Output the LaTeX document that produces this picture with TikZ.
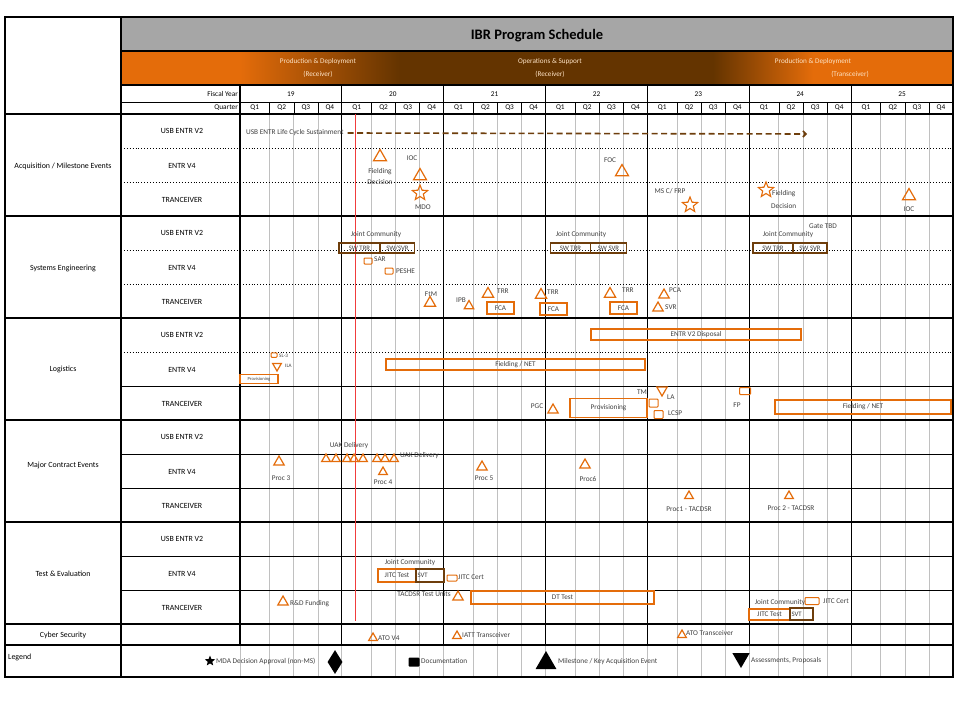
\documentclass[tikz,border=0pt]{standalone}
\usepackage{fontspec}
\setmainfont{Carlito}
\usetikzlibrary{shapes.geometric,arrows.meta}
\definecolor{orng}{RGB}{228,108,10}
\definecolor{bandbrn}{RGB}{100,52,0}
\definecolor{brn}{RGB}{110,62,12}
\definecolor{titlegray}{RGB}{166,166,166}
\definecolor{gridg}{RGB}{192,192,192}
\definecolor{txtg}{RGB}{64,64,64}
\definecolor{peach}{RGB}{253,226,196}
\definecolor{redl}{RGB}{240,60,60}
\newcommand\myfs[1]{\fontsize{#1}{#1}\selectfont}
\begin{document}
\begin{tikzpicture}[x=1pt,y=-1pt,
  lbl/.style={font=\myfs{7.3}, text=txtg, inner sep=0},
  slbl/.style={font=\myfs{5.2}, text=txtg, inner sep=0},
  sect/.style={font=\myfs{7.9}, text=black, inner sep=0},
  tri/.style={draw=orng, line width=1.2pt, regular polygon, regular polygon sides=3, minimum size=#1, inner sep=0},
  tri/.default=14,
  itri/.style={tri=#1, shape border rotate=180},
  itri/.default=12,
  strm/.style={draw=orng, line width=1.1pt, star, star points=5, star point ratio=2.3, minimum size=16, inner sep=0},
  docm/.style={draw=orng, line width=1pt, rectangle, rounded corners=0.8pt, minimum width=8, minimum height=6, inner sep=0},
  obox/.style={draw=orng, line width=1.2pt, rectangle, inner sep=0, font=\myfs{7.2}, text=txtg},
  bbox/.style={draw=brn, line width=1.2pt, rectangle, inner sep=0, font=\myfs{6.8}, text=txtg},
  seg/.style={line width=1.1pt, black},
  dotl/.style={black, line width=0.9pt, dotted},
  lcsarrow/.style={draw=brn, line width=1.6pt, dash pattern=on 6pt off 3.5pt, -{Straight Barb[length=3pt,width=6pt]}}
]
\useasboundingbox (0,0) rectangle (960,720);
\fill[white] (0,0) rectangle (960,720);

% ---------- header ----------
\fill[titlegray] (121,17) rectangle (953,51);
\node[font=\myfs{14.5}\bfseries, inner sep=0] (title) at (537,36) {IBR Program Schedule};
\fill[orng] (121,51) rectangle (240,85);
\shade[left color=orng, right color=bandbrn] (240,51) rectangle (400,85);
\fill[bandbrn] (400,51) rectangle (713,85);
\shade[left color=bandbrn, right color=orng] (713,51) rectangle (813,85);
\fill[orng] (813,51) rectangle (953,85);
\node[font=\myfs{7.2}, text=peach, inner sep=0] (b1a) at (318,62) {Production \& Deployment};
\node[font=\myfs{7.2}, text=peach, inner sep=0] (b1b) at (318,74) {(Receiver)};
\node[font=\myfs{7.2}, text=peach, inner sep=0] (b2a) at (550,62) {Operations \& Support};
\node[font=\myfs{7.2}, text=peach, inner sep=0] (b2b) at (550,74) {(Receiver)};
\node[font=\myfs{7.2}, text=peach, inner sep=0] (b3a) at (813,62) {Production \& Deployment};
\node[font=\myfs{7.2}, text=peach, inner sep=0] (b3b) at (850,74) {(Transceiver)};
\node[lbl, text=black, anchor=east] (fy) at (238,94) {Fiscal Year};
\node[lbl, text=black, anchor=east] (qt) at (238,108) {Quarter};

% ---------- grid ----------
\foreach \k in {0,...,6}{
  \pgfmathsetmacro\xa{240+101.857*\k}
  \pgfmathsetmacro\xb{\xa+29.6}
  \pgfmathsetmacro\xc{\xa+53.8}
  \pgfmathsetmacro\xd{\xa+77.9}
  \pgfmathsetmacro\xe{\xa+101.857}
  \pgfmathtruncatemacro\yr{19+\k}
  \draw[gridg, line width=0.8pt] (\xb,114) -- (\xb,677) (\xc,114) -- (\xc,677) (\xd,114) -- (\xd,677);
  \draw[black, line width=0.6pt] (\xb,102) -- (\xb,114) (\xc,102) -- (\xc,114) (\xd,102) -- (\xd,114);
  \draw[gridg, line width=0.8pt] (\xa,645) -- (\xa,677);
  \draw[black, line width=1.1pt] (\xa,85) -- (\xa,645);
  \node[lbl, text=black] at ({(\xa+\xe)/2},94) {\yr};
  \node[lbl, text=black] at ({(\xa+\xb)/2},108) {Q1};
  \node[lbl, text=black] at ({(\xb+\xc)/2},108) {Q2};
  \node[lbl, text=black] at ({(\xc+\xd)/2},108) {Q3};
  \node[lbl, text=black] at ({(\xd+\xe)/2},108) {Q4};
}
% header lines
\draw[line width=1.6pt] (121,51) -- (953,51);
\draw[line width=1.6pt] (121,85) -- (953,85);
\draw[line width=0.8pt] (121,102) -- (953,102);
% dotted sub-rows
\foreach \yy in {148,182,250,284,352}{\draw[dotl] (121,\yy) -- (953,\yy);}
\foreach \yy in {386,454,488,556,590}{\draw[line width=1pt] (121,\yy) -- (953,\yy);}
% section lines
\draw[line width=1.6pt] (5,114) -- (953,114);
\foreach \yy in {216,318,522,624,645}{\draw[seg] (5,\yy) -- (953,\yy);}
\draw[line width=1.7pt] (5,420) -- (953,420);
% outer frame
\draw[line width=1.1pt] (5,17) rectangle (953,677);
\draw[line width=1.1pt] (121,17) -- (121,677);
% red today line
\draw[redl, line width=1pt] (355,114) -- (355,621);

% ---------- left labels ----------
\node[sect] (s1) at (63,166) {Acquisition / Milestone Events};
\node[sect] (s2) at (63,268) {Systems Engineering};
\node[sect] (s3) at (63,369) {Logistics};
\node[sect] (s4) at (63,465) {Major Contract Events};
\node[sect] (s5) at (63,574) {Test \& Evaluation};
\node[sect] (s6) at (63,635) {Cyber Security};
\node[sect, anchor=west] (s7) at (8,657) {Legend};
\foreach \yy/\nm in {131/a,233/b,335/c,437/d,539/e}{
  \node[sect] (u\nm) at (182,\yy) {USB ENTR V2};
  \node[sect] (v\nm) at (182,\yy+35) {ENTR V4};
  \node[sect] (t\nm) at (182,\yy+69) {TRANCEIVER};
}

% ---------- Acquisition ----------
\node[lbl, anchor=west] (lcs) at (246,133) {USB ENTR Life Cycle Sustainment};
\coordinate (lcsend) at (807,134);
\draw[lcsarrow] ([xshift=4pt]lcs.east) -- (lcsend);
\node[tri=15] (fd1) at (380,157) {};
\node[lbl] (fd1a) at (380,172) {Fielding};
\node[lbl] (fd1b) at (380,182) {Decision};
\node[lbl] (ioc1l) at (412,158) {IOC};
\node[tri=15] (ioc1) at (420,176) {};
\node[lbl] (focl) at (610,160) {FOC};
\node[tri=15] (foc) at (622,172) {};
\node[strm] (mdo) at (420,193) {};
\node[lbl] (mdol) at (423,207) {MDO};
\node[lbl] (msc) at (670,191) {MS C/ FRP};
\node[strm] (mscs) at (690,205) {};
\node[strm] (fd2) at (766,190) {};
\node[lbl, anchor=west] (fd2a) at (772,194) {Fielding};
\node[lbl, anchor=west] (fd2b) at (771,206) {Decision};
\node[tri=15] (ioc2) at (909,196) {};
\node[lbl] (ioc2l) at (909,209) {IOC};

% ---------- Systems Engineering ----------
\node[lbl] (jc1) at (376,235) {Joint Community};
\node[bbox, minimum width=41, minimum height=10] (swtrr1) at (359.5,248) {SW TRR};
\node[bbox, minimum width=34, minimum height=10] (swsvr1) at (397.5,248) {SW/SVR};
\node[lbl] (jc2) at (581,235) {Joint Community};
\node[bbox, minimum width=40, minimum height=10] (swtrr2) at (570.5,248) {SW TRR};
\node[bbox, minimum width=36, minimum height=10] (swsvr2) at (608.5,248) {SW SVR};
\node[lbl] (gate) at (823,226) {Gate TBD};
\node[lbl] (jc3) at (788,235) {Joint Community};
\node[bbox, minimum width=40, minimum height=10] (swtrr3) at (773,248) {SW TRR};
\node[bbox, minimum width=34, minimum height=10] (swsvr3) at (810,248) {SW SVR};
\node[docm] (sar) at (368,261) {};
\node[lbl, anchor=west] (sarl) at (374,259) {SAR};
\node[docm] (peshe) at (389,271) {};
\node[lbl, anchor=west] (peshel) at (396,271) {PESHE};
\node[lbl] (ftml) at (431,294) {FtM};
\node[tri=13] (ftm) at (430,303) {};
\node[lbl, anchor=east] (ipbl) at (466,300) {IPB};
\node[tri=11] (ipb) at (469,306) {};
\node[tri=13] (trr1) at (488,294) {};
\node[lbl, anchor=west] (trr1l) at (497,291) {TRR};
\node[obox, minimum width=27, minimum height=12] (fca1) at (500.5,308) {FCA};
\node[tri=13] (trr2) at (541,295) {};
\node[lbl, anchor=west] (trr2l) at (547,292) {TRR};
\node[obox, minimum width=27, minimum height=12] (fca2) at (553.5,309) {FCA};
\node[tri=13] (trr3) at (610,294) {};
\node[lbl, anchor=west] (trr3l) at (622,290) {TRR};
\node[obox, minimum width=27, minimum height=12] (fca3) at (623.5,308) {FCA};
\node[tri=12] (pca) at (664,295) {};
\node[lbl, anchor=west] (pcal) at (669,290) {PCA};
\node[tri=12] (svr) at (658,308) {};
\node[lbl, anchor=west] (svrl) at (665,307) {SVR};

% ---------- Logistics ----------
\node[obox, minimum width=210, minimum height=11] (disp) at (696,334.5) {ENTR V2 Disposal};
\node[docm, minimum width=6, minimum height=4.5] (sl3) at (274,355) {};
\node[slbl, anchor=west] (sl3l) at (279,356) {SL-3};
\node[itri=10] (ila) at (277,366) {};
\node[slbl, anchor=west] (ilal) at (285,366) {ILA};
\node[obox, minimum width=38, minimum height=9, font=\myfs{4.6}] (prov1) at (259,379) {Provisioning};
\node[obox, minimum width=259, minimum height=11] (fnet1) at (515.5,364.5) {Fielding / NET};
\node[lbl] (pgcl) at (537,406) {PGC};
\node[tri=12] (pgc) at (553,410) {};
\node[obox, minimum width=77, minimum height=19] (prov2) at (608.5,408) {Provisioning};
\node[lbl] (tml) at (642,392) {TM};
\node[itri=12] (la) at (662,390) {};
\node[lbl, anchor=west] (lal) at (667,397) {LA};
\node[docm, minimum width=9, minimum height=8] (doc1) at (653.5,403) {};
\node[docm, minimum width=9, minimum height=8] (lcsp) at (658.5,414.5) {};
\node[lbl, anchor=west] (lcspl) at (668,413) {LCSP};
\node[docm, minimum width=11, minimum height=7] (fp) at (745,391) {};
\node[lbl] (fpl) at (737,405) {FP};
\node[obox, minimum width=176, minimum height=14] (fnet2) at (863,407) {Fielding / NET};

% ---------- Major Contract Events ----------
\node[lbl] (uak1) at (349,446) {UAK Delivery};
\foreach \xx [count=\i] in {326,336,347,354,363,377,385,394}{
  \node[tri=10] (uakt\i) at (\xx,459) {};
}
\node[lbl, anchor=west] (uak2) at (400,456) {UAK Delivery};
\node[tri=12] (p3) at (279,462) {};
\node[lbl] (p3l) at (281,478) {Proc 3};
\node[tri=10] (p4) at (383,472) {};
\node[lbl] (p4l) at (383,482) {Proc 4};
\node[tri=12] (p5) at (482,467) {};
\node[lbl] (p5l) at (484,478) {Proc 5};
\node[tri=12] (p6) at (585,465) {};
\node[lbl] (p6l) at (588,479) {Proc6};
\node[tri=10] (pt1) at (689,496) {};
\node[lbl] (pt1l) at (689,509) {Proc1 - TACDSR};
\node[tri=10] (pt2) at (789,496) {};
\node[lbl] (pt2l) at (791,508) {Proc 2 - TACDSR};

% ---------- Test & Evaluation ----------
\node[lbl] (jc4) at (410,563) {Joint Community};
\node[obox, minimum width=38, minimum height=13] (jitc1) at (397,575.5) {JITC Test};
\node[bbox, minimum width=28, minimum height=13, text width=25, align=left] (svt1) at (430,575.5) {SVT};
\node[docm, minimum width=10, minimum height=6] (cert1) at (452,578) {};
\node[lbl, anchor=west] (cert1l) at (458,577) {JITC Cert};
\node[lbl, anchor=east] (tacl) at (451,594) {TACDSR Test Units};
\node[tri=12] (tac) at (458,597) {};
\node[obox, minimum width=183, minimum height=13] (dt) at (562.5,597.5) {DT Test};
\node[tri=12] (rd) at (283,602) {};
\node[lbl, anchor=west] (rdl) at (290,604) {R\&D Funding};
\node[lbl] (jc5) at (780,603) {Joint Community};
\node[obox, minimum width=41, minimum height=11] (jitc2) at (769.5,614.5) {JITC Test};
\node[bbox, minimum width=23, minimum height=12, text width=20, align=left] (svt2) at (801.5,614) {SVT};
\node[docm, minimum width=14, minimum height=7] (cert2) at (812,601) {};
\node[lbl, anchor=west] (cert2l) at (823,601) {JITC Cert};

% ---------- Cyber ----------
\node[tri=10] (ato1) at (373,638) {};
\node[lbl, anchor=west] (ato1l) at (378,638) {ATO V4};
\node[tri=10] (iatt) at (457,636) {};
\node[lbl, anchor=west] (iattl) at (462,635) {IATT Transceiver};
\node[tri=10] (ato2) at (682,635) {};
\node[lbl, anchor=west] (ato2l) at (686,633) {ATO Transceiver};

% ---------- Legend ----------
\node[star, star points=5, star point ratio=2.3, fill=black, minimum size=11, inner sep=0] (lg1) at (210,661) {};
\node[lbl, anchor=west] (lg1l) at (216,661) {MDA Decision Approval (non-MS)};
\node[diamond, fill=black, minimum width=15, minimum height=24, inner sep=0] (lg2) at (335,662) {};
\node[rectangle, fill=black, rounded corners=1pt, minimum width=11, minimum height=9, inner sep=0] (lg3) at (414,662) {};
\node[lbl, anchor=west] (lg3l) at (421,661) {Documentation};
\node[regular polygon, regular polygon sides=3, fill=black, minimum size=24, inner sep=0] (lg4) at (546,663) {};
\node[lbl, anchor=west] (lg4l) at (558,662) {Milestone / Key Acquisition Event};
\node[regular polygon, regular polygon sides=3, shape border rotate=180, fill=black, minimum size=20, inner sep=0] (lg5) at (741,658) {};
\node[lbl, anchor=west] (lg5l) at (751,661) {Assessments, Proposals};
\end{tikzpicture}
\end{document}
